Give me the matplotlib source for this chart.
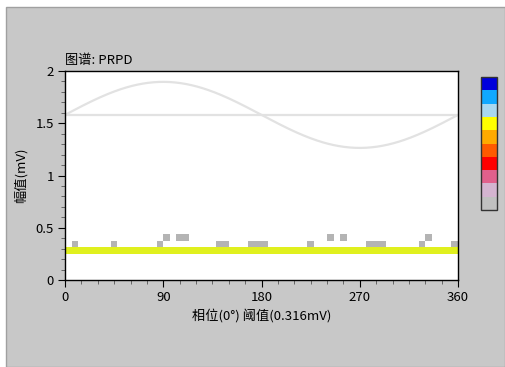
import numpy as np
import matplotlib
matplotlib.use("Agg")
import matplotlib.pyplot as plt
from matplotlib.colors import ListedColormap, BoundaryNorm
from matplotlib.patches import Rectangle
import matplotlib.colorbar as mcolorbar

plt.rcParams['font.family'] = ['Noto Sans CJK SC', 'DejaVu Sans']

# ---- data ----
title = "图谱: PRPD"
xlabel = "相位(0°) 阈值(0.316mV)"
ylabel = "幅值(mV)"
x_ticks = [0, 90, 180, 270, 360]
y_ticks = [0, 0.5, 1, 1.5, 2]
n_phase_bins = 60          # 6 degrees per bin
amp_bin = 0.0625           # mV per amplitude bin
n_amp_bins = 32
threshold = 0.316
sine_offset = 1.58

# level of the full-width band (amplitude bin 4)
band_row = 4
band_level = 7
# low-count (grey) cells: amplitude bin -> phase bins
row5_bins = [1, 7, 14, 23, 24, 28, 29, 30, 37, 46, 47, 48, 54, 59]
row6_bins = [15, 17, 18, 40, 42, 55]
gray_level = 1

# colorbar level colours (bottom -> top)
level_colors = ['#c0c0c0', '#d4b4d0', '#e0608c', '#ff0000', '#ff5a00',
                '#ffaa00', '#ffff00', '#a8d8f0', '#10a8ff', '#0000dc']

# ---- build count grid ----
grid = np.zeros((n_amp_bins, n_phase_bins))
grid[band_row, :] = band_level
for b in row5_bins:
    grid[5, b] = gray_level
for b in row6_bins:
    grid[6, b] = gray_level
grid = np.ma.masked_equal(grid, 0)

chart_colors = ['#b4b4b4', '#d4b4d0', '#e0608c', '#ff0000', '#ff5a00',
                '#ffaa00', '#e0f01e', '#a8d8f0', '#10a8ff', '#0000dc']
cmap_chart = ListedColormap(chart_colors)
norm = BoundaryNorm(np.arange(0.5, 11.5, 1), cmap_chart.N)

phase_edges = np.linspace(0, 360, n_phase_bins + 1)
amp_edges = np.arange(n_amp_bins + 1) * amp_bin

# ---- figure ----
W, H = 505, 367
fig = plt.figure(figsize=(W / 100, H / 100), dpi=100)
fig.patch.set_facecolor('white')
fig.patches.append(Rectangle((6 / W, 0), 1 - 6 / W, (H - 7) / H,
                             transform=fig.transFigure, facecolor='#c8c8c8',
                             edgecolor='#a0a0a0', linewidth=1.0, zorder=-10))

ax = fig.add_axes([65 / W, (H - 280) / H, (458 - 65) / W, (280 - 71) / H])
ax.set_facecolor('white')

ax.pcolormesh(phase_edges, amp_edges, grid, cmap=cmap_chart, norm=norm,
              shading='flat', zorder=2)

ph = np.arange(0, 361, 1)
ax.plot(ph, sine_offset + threshold * np.sin(np.deg2rad(ph)),
        color='#e2e2e2', lw=1.6, zorder=1)
ax.axhline(sine_offset, color='#e2e2e2', lw=1.6, zorder=1)

ax.set_xlim(0, 360)
ax.set_ylim(0, 2)
ax.set_xticks(x_ticks)
ax.set_xticklabels([str(t) for t in x_ticks])
ax.set_yticks(y_ticks)
ax.set_yticklabels(['0', '0.5', '1', '1.5', '2'])
ax.set_xticks(np.arange(0, 361, 15), minor=True)
ax.set_yticks(np.arange(0, 2.01, 0.1), minor=True)
ax.tick_params(which='major', direction='out', length=5, width=0.8,
               labelsize=9.5, colors='black', pad=3)
ax.tick_params(which='minor', direction='out', length=3, width=0.6,
               colors='#555555')
for s in ax.spines.values():
    s.set_color('black')
    s.set_linewidth(1.0)

ax.set_xlabel(xlabel, fontsize=9.5, labelpad=3)
ax.set_ylabel(ylabel, fontsize=9.5, labelpad=6)
ax.set_title(title, fontsize=9.5, loc='left', pad=5, x=0.0)

# ---- colorbar ----
cax = fig.add_axes([481 / W, (H - 210) / H, 15.5 / W, 133 / H])
cmap_bar = ListedColormap(level_colors)
cb = mcolorbar.ColorbarBase(cax, cmap=cmap_bar,
                            norm=BoundaryNorm(np.arange(0.5, 11.5, 1), 10),
                            orientation='vertical')
cb.set_ticks([])
cb.ax.minorticks_off()
cb.ax.tick_params(which='both', length=0, labelright=False, labelleft=False)
cb.outline.set_edgecolor('#333333')
cb.outline.set_linewidth(1.0)

fig.savefig('out.png', dpi=100)
